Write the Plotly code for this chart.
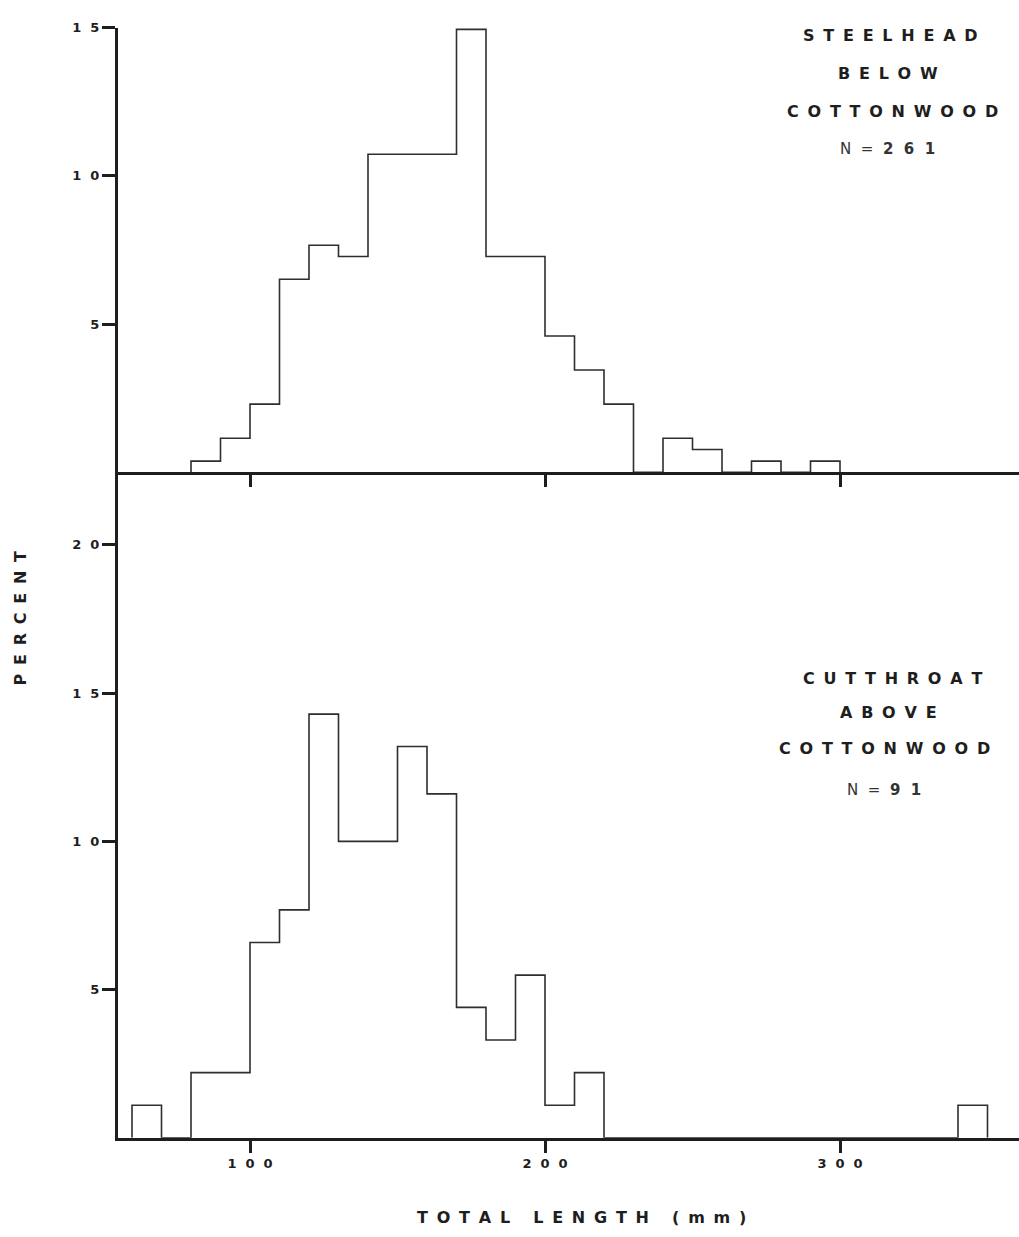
import plotly.graph_objects as go

# Figure size in pixels
W, H = 1019, 1237
BIN_WIDTH = 10  # mm

# Steelhead below Cottonwood (N = 261): lower bin edge (mm) and percent of fish
steelhead_bins = [80, 90, 100, 110, 120, 130, 140, 150, 160, 170, 180,
                  190, 200, 210, 220, 230, 240, 250, 260, 270, 280, 290]
steelhead_pct = [0.38, 1.15, 2.30, 6.51, 7.66, 7.28, 10.73, 10.73, 10.73, 14.94, 7.28,
                 7.28, 4.60, 3.45, 2.30, 0.0, 1.15, 0.77, 0.0, 0.38, 0.0, 0.38]

# Cutthroat above Cottonwood (N = 91)
cutthroat_bins = [60, 70, 80, 90, 100, 110, 120, 130, 140, 150, 160, 170, 180, 190,
                  200, 210, 220, 230, 240, 250, 260, 270, 280, 290, 300, 310, 320,
                  330, 340]
cutthroat_pct = [1.10, 0.0, 2.20, 2.20, 6.59, 7.69, 14.29, 10.0, 10.0, 13.2, 11.6,
                 4.40, 3.30, 5.49, 1.10, 2.20, 0.0, 0.0, 0.0, 0.0, 0.0, 0.0, 0.0,
                 0.0, 0.0, 0.0, 0.0, 0.0, 1.10]

length_ticks = [100, 200, 300]
steelhead_yticks = [5, 10, 15]
cutthroat_yticks = [5, 10, 15, 20]

steelhead_label = ["STEELHEAD", "BELOW", "COTTONWOOD"]
steelhead_n = "261"
cutthroat_label = ["CUTTHROAT", "ABOVE", "COTTONWOOD"]
cutthroat_n = "91"

NBSP = "\u00a0"
THIN = "\u2009"
FONT = "DejaVu Sans, Verdana, sans-serif"
INK = "#1e1e1e"
LINE = "#2e2e2e"


def spaced(text, gap=NBSP + THIN, word_gap=NBSP * 3 + THIN * 2):
    """Widely letter-spaced lettering."""
    words = text.split(" ")
    return word_gap.join(gap.join(w) for w in words)


def px(x):
    return x / W


def py(y):
    return 1 - y / H


def outline(bins, pct):
    xs, ys = [bins[0]], [0]
    for b, p in zip(bins, pct):
        xs.append(b)
        ys.append(p)
    xs.append(bins[-1] + BIN_WIDTH)
    ys.append(0)
    return xs, ys


fig = go.Figure()

sx, sy = outline(steelhead_bins, steelhead_pct)
fig.add_trace(go.Scatter(x=sx, y=sy, mode="lines", line=dict(shape="hv", color=LINE, width=1.6),
                         xaxis="x", yaxis="y", showlegend=False, hoverinfo="skip"))
cx, cy = outline(cutthroat_bins, cutthroat_pct)
fig.add_trace(go.Scatter(x=cx, y=cy, mode="lines", line=dict(shape="hv", color=LINE, width=1.6),
                         xaxis="x2", yaxis="y2", showlegend=False, hoverinfo="skip"))

# Shared length scale, 2.95 px per mm, 100 mm at x = 250 px
x_left, x_right = 118, W
mm_per_px = 1 / 2.95
x_range = [100 - (250 - x_left) * mm_per_px, 100 + (x_right - 250) * mm_per_px]

tick_font = dict(family=FONT, size=13, color=INK, weight="bold")
tick_gap = NBSP * 2
axis_common = dict(showline=True, linecolor=INK, linewidth=3, showgrid=False, zeroline=False,
                   ticks="outside", tickcolor=INK, tickwidth=3, fixedrange=True)

# Percent scale: 29.8 px per percent
top_base, top_top = 468, 20.7
bot_base = 1137.3
y_scale = (top_base - top_top) / 15

fig.update_layout(
    width=W, height=H,
    margin=dict(l=0, r=0, t=0, b=0),
    paper_bgcolor="white", plot_bgcolor="white",
    xaxis=dict(domain=[px(x_left), px(x_right)], range=x_range, anchor="y",
               tickvals=length_ticks, showticklabels=False, ticklen=12, **axis_common),
    yaxis=dict(domain=[py(top_base), py(top_top)], range=[0, 15], anchor="x",
               tickvals=steelhead_yticks,
               ticktext=[spaced(str(v), gap=tick_gap) for v in steelhead_yticks],
               ticklen=13, tickfont=tick_font, **axis_common),
    xaxis2=dict(domain=[px(x_left), px(x_right)], range=x_range, anchor="y2",
                tickvals=length_ticks,
                ticktext=[spaced(str(v), gap=tick_gap) for v in length_ticks],
                ticklen=12, tickfont=tick_font, **axis_common),
    yaxis2=dict(domain=[py(bot_base), py(top_base)], range=[0, (bot_base - top_base) / y_scale],
                anchor="x2", tickvals=cutthroat_yticks,
                ticktext=[spaced(str(v), gap=tick_gap) for v in cutthroat_yticks],
                ticklen=13, tickfont=tick_font, **axis_common),
)

label_font = dict(family=FONT, size=16, color=INK, weight="bold")
n_font = dict(family=FONT, size=15, color="#333333", weight="normal")


def add_text(text, x, y, font=label_font, angle=0):
    fig.add_annotation(text=text, x=px(x), y=py(y), xref="paper", yref="paper",
                       showarrow=False, font=font, textangle=angle,
                       xanchor="center", yanchor="middle")


def n_text(n):
    return "N" + NBSP * 2 + "=" + NBSP * 2 + "<b>" + spaced(n, gap=NBSP * 2) + "</b>"


# Panel labels
for line, x, y in zip(steelhead_label, [890, 888, 892], [29, 67, 105]):
    add_text(spaced(line), x, y)
add_text(n_text(steelhead_n), 887, 143, font=n_font)

for line, x, y in zip(cutthroat_label, [892, 888, 884], [675, 710, 746]):
    add_text(spaced(line), x, y)
add_text(n_text(cutthroat_n), 884, 787, font=n_font)

# Axis titles
add_text(spaced("PERCENT"), 21, 615, angle=-90)
add_text(spaced("TOTAL LENGTH (mm)"), 581, 1217)

fig.write_html("out.html")
